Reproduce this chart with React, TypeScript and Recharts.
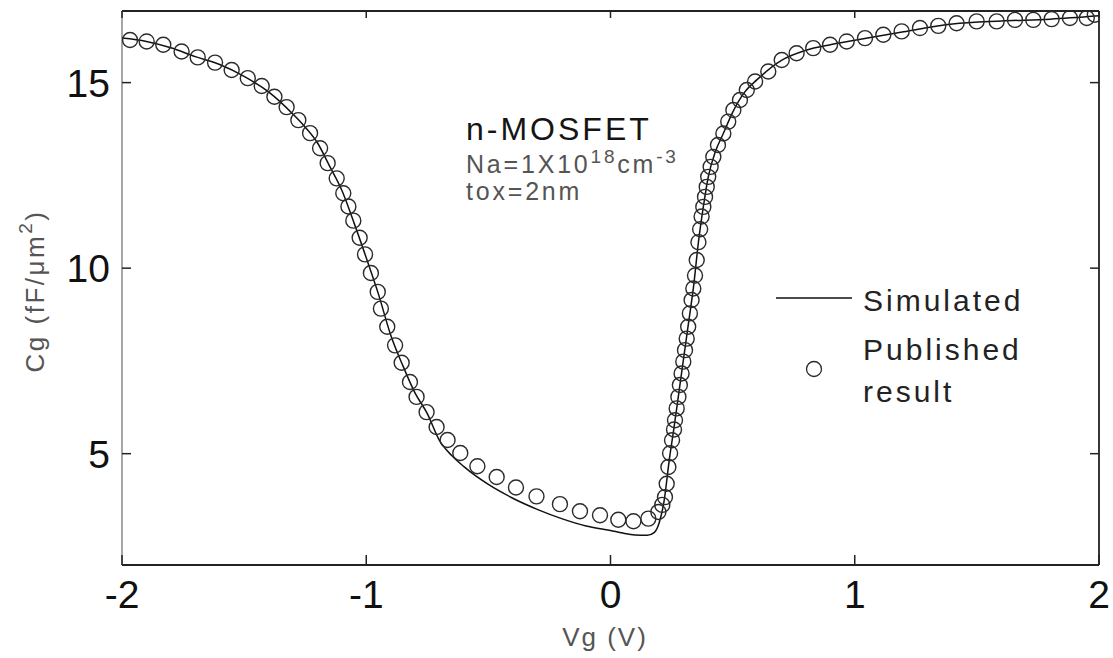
import React from 'react';
import { ComposedChart, Line, Scatter, XAxis, YAxis } from 'recharts';

const FONT = '"Liberation Sans", Arial, Helvetica, sans-serif';

// Simulated gate capacitance (solid curve)
const simulatedV = [
  -2.0, -1.9, -1.8, -1.7, -1.6, -1.5, -1.4, -1.3, -1.25, -1.2, -1.15, -1.1, -1.05, -1.0,
  -0.95, -0.9, -0.85, -0.8, -0.75, -0.7, -0.65, -0.6, -0.5, -0.4, -0.3, -0.2, -0.1, 0.0,
  0.05, 0.1, 0.15, 0.18, 0.2, 0.22, 0.24, 0.26, 0.28, 0.3, 0.32, 0.34, 0.36, 0.38, 0.4,
  0.43, 0.46, 0.5, 0.55, 0.6, 0.7, 0.8, 0.9, 1.0, 1.2, 1.4, 1.6, 1.8, 2.0,
];
const simulatedC = [
  16.2, 16.11, 15.94, 15.7, 15.49, 15.17, 14.75, 14.15, 13.8, 13.38, 12.75, 12.1, 11.22, 10.28,
  9.3, 8.2, 7.37, 6.63, 6.08, 5.35, 4.95, 4.65, 4.17, 3.8, 3.5, 3.25, 3.05, 2.93,
  2.86, 2.81, 2.8, 2.88, 3.15, 3.75, 4.8, 5.7, 6.65, 7.6, 8.55, 9.5, 10.7, 11.65, 12.45,
  13.15, 13.6, 14.2, 14.75, 15.08, 15.6, 15.87, 16.02, 16.14, 16.37, 16.58, 16.66, 16.71, 16.8,
];

// Published gate capacitance (open circles)
const publishedV = [
  -1.967, -1.899, -1.831, -1.756, -1.69, -1.619, -1.551, -1.485, -1.428, -1.376,
  -1.326, -1.278, -1.23, -1.189, -1.158, -1.121, -1.094, -1.073, -1.053, -1.027,
  -1.005, -0.981, -0.953, -0.94, -0.914, -0.882, -0.855, -0.821, -0.794, -0.753,
  -0.712, -0.667, -0.615, -0.545, -0.466, -0.387, -0.303, -0.207, -0.125, -0.043,
  0.032, 0.094, 0.155, 0.196, 0.212, 0.223, 0.23, 0.237, 0.244, 0.252,
  0.26, 0.264, 0.271, 0.278, 0.284, 0.291, 0.298, 0.305, 0.312, 0.318,
  0.325, 0.332, 0.339, 0.346, 0.353, 0.36, 0.367, 0.373, 0.38, 0.387,
  0.394, 0.4, 0.41, 0.421, 0.44, 0.462, 0.482, 0.503, 0.53, 0.558,
  0.592, 0.646, 0.701, 0.762, 0.83, 0.899, 0.967, 1.042, 1.117, 1.192,
  1.267, 1.342, 1.417, 1.499, 1.581, 1.656, 1.731, 1.806, 1.881, 1.95, 1.983,
];
const publishedC = [
  16.15, 16.11, 16.02, 15.84, 15.68, 15.54, 15.34, 15.12, 14.91, 14.62,
  14.34, 13.99, 13.64, 13.23, 12.83, 12.42, 12.02, 11.66, 11.28, 10.82,
  10.37, 9.87, 9.36, 8.91, 8.42, 7.92, 7.45, 6.93, 6.53, 6.12,
  5.72, 5.37, 5.02, 4.66, 4.37, 4.09, 3.85, 3.64, 3.45, 3.34,
  3.22, 3.18, 3.25, 3.43, 3.62, 3.83, 4.19, 4.64, 5.01, 5.36,
  5.65, 5.9, 6.22, 6.53, 6.85, 7.16, 7.48, 7.79, 8.1, 8.42,
  8.78, 9.14, 9.45, 9.8, 10.22, 10.7, 11.05, 11.39, 11.65, 11.92,
  12.19, 12.46, 12.73, 13.0, 13.32, 13.63, 13.95, 14.26, 14.53, 14.8,
  15.03, 15.3, 15.61, 15.79, 15.93, 16.02, 16.11, 16.2, 16.29, 16.38,
  16.47, 16.53, 16.6, 16.65, 16.65, 16.69, 16.69, 16.71, 16.74, 16.74, 16.83,
];

const xTicks = [-2, -1, 0, 1, 2];
const yTicks = [5, 10, 15];
const xDomain: [number, number] = [-2, 2];
const yDomain: [number, number] = [2, 16.93];

const simulated = simulatedV.map((v, i) => ({ v, c: simulatedC[i] }));
const published = publishedV.map((v, i) => ({ v, c: publishedC[i] }));

const AXIS_COLOR = '#222';
const W = 1113;
const H = 658;

const BottomTick = (props: any) => {
  const { x, y, payload } = props;
  return (
    <g>
      <line x1={x} x2={x} y1={y} y2={y - 10} stroke={AXIS_COLOR} strokeWidth={1.5} />
      <text x={x} y={y + 43} textAnchor="middle" fontSize={39} fill="#111" fontFamily={FONT}>
        {String(payload.value)}
      </text>
    </g>
  );
};

const LeftTick = (props: any) => {
  const { x, y, payload } = props;
  return (
    <g>
      <line x1={x} x2={x + 9} y1={y} y2={y} stroke={AXIS_COLOR} strokeWidth={1.5} />
      <text x={x - 12} y={y + 14} textAnchor="end" fontSize={39} fill="#111" fontFamily={FONT}>
        {String(payload.value)}
      </text>
    </g>
  );
};

const TopTick = (props: any) => {
  const { x, y } = props;
  return <line x1={x} x2={x} y1={y} y2={y + 7} stroke={AXIS_COLOR} strokeWidth={1.5} />;
};

const RightTick = (props: any) => {
  const { x, y } = props;
  return <line x1={x} x2={x - 9} y1={y} y2={y} stroke={AXIS_COLOR} strokeWidth={1.5} />;
};

const OpenCircle = (props: any) => {
  const { cx, cy } = props;
  if (cx == null || cy == null) return null;
  return <circle cx={cx} cy={cy} r={7.5} fill="none" stroke="#2a2a2a" strokeWidth={1.4} />;
};

export default function App() {
  return (
    <div style={{ position: 'absolute', left: 0, top: 0, width: W, height: H }}>
      <ComposedChart
        width={W}
        height={H}
        margin={{ top: 10, right: 13, bottom: 0, left: 0 }}
        style={{ fontFamily: FONT, overflow: 'visible' }}
      >
        <XAxis
          xAxisId="bottom"
          dataKey="v"
          type="number"
          domain={xDomain}
          ticks={xTicks}
          allowDataOverflow
          height={93}
          tickSize={0}
          tickMargin={0}
          tickLine={false}
          tick={BottomTick}
          axisLine={{ stroke: AXIS_COLOR, strokeWidth: 1.8 }}
        />
        <XAxis
          xAxisId="top"
          orientation="top"
          dataKey="v"
          type="number"
          domain={xDomain}
          ticks={xTicks}
          allowDataOverflow
          height={1}
          tickSize={0}
          tickMargin={0}
          tickLine={false}
          tick={TopTick}
          axisLine={{ stroke: AXIS_COLOR, strokeWidth: 1.8 }}
        />
        <YAxis
          yAxisId="left"
          dataKey="c"
          type="number"
          domain={yDomain}
          ticks={yTicks}
          allowDataOverflow
          width={122}
          tickSize={0}
          tickMargin={0}
          tickLine={false}
          tick={LeftTick}
          axisLine={{ stroke: '#777', strokeWidth: 1.3 }}
        />
        <YAxis
          yAxisId="right"
          orientation="right"
          dataKey="c"
          type="number"
          domain={yDomain}
          ticks={yTicks}
          allowDataOverflow
          width={1}
          tickSize={0}
          tickMargin={0}
          tickLine={false}
          tick={RightTick}
          axisLine={{ stroke: AXIS_COLOR, strokeWidth: 1.8 }}
        />

        <Line
          xAxisId="bottom"
          yAxisId="left"
          data={simulated}
          dataKey="c"
          type="monotone"
          stroke="#111"
          strokeWidth={1.5}
          dot={false}
          activeDot={false}
          isAnimationActive={false}
        />
        {/* the circles use the top/right axes, which share the same domains */}
        <Scatter
          xAxisId="top"
          yAxisId="right"
          data={published}
          dataKey="c"
          shape={OpenCircle}
          isAnimationActive={false}
        />

        {/* axis titles */}
        <text
          x={605}
          y={646}
          textAnchor="middle"
          fontSize={26}
          letterSpacing={2}
          fill="#555"
          fontFamily={FONT}
        >
          Vg (V)
        </text>
        <text
          x={35}
          y={291}
          textAnchor="middle"
          dominantBaseline="central"
          fontSize={26}
          letterSpacing={2.5}
          fill="#555"
          fontFamily={FONT}
          transform="rotate(-90 35 291)"
        >
          Cg (fF/μm
          <tspan dy={-10} fontSize={19}>2</tspan>
          <tspan dy={10}>)</tspan>
        </text>

        {/* device annotation */}
        <text x={466} y={140} fontSize={32} letterSpacing={3} fill="#151515" fontFamily={FONT}>
          n-MOSFET
        </text>
        <text x={466} y={173} fontSize={25} letterSpacing={2.8} fill="#555" fontFamily={FONT}>
          Na=1X10
          <tspan dy={-10} fontSize={19}>18</tspan>
          <tspan dy={10}>cm</tspan>
          <tspan dy={-10} fontSize={19}>-3</tspan>
        </text>
        <text x={466} y={200} fontSize={25} letterSpacing={2.8} fill="#555" fontFamily={FONT}>
          tox=2nm
        </text>

        {/* legend */}
        <line x1={776} x2={852} y1={298} y2={298} stroke="#111" strokeWidth={1.5} />
        <text x={863} y={311} fontSize={30} letterSpacing={3} fill="#222" fontFamily={FONT}>
          Simulated
        </text>
        <circle cx={814} cy={369} r={7.5} fill="none" stroke="#2a2a2a" strokeWidth={1.3} />
        <text x={863} y={360} fontSize={30} letterSpacing={3} fill="#222" fontFamily={FONT}>
          Published
        </text>
        <text x={863} y={402} fontSize={30} letterSpacing={3} fill="#222" fontFamily={FONT}>
          result
        </text>
      </ComposedChart>
    </div>
  );
}
